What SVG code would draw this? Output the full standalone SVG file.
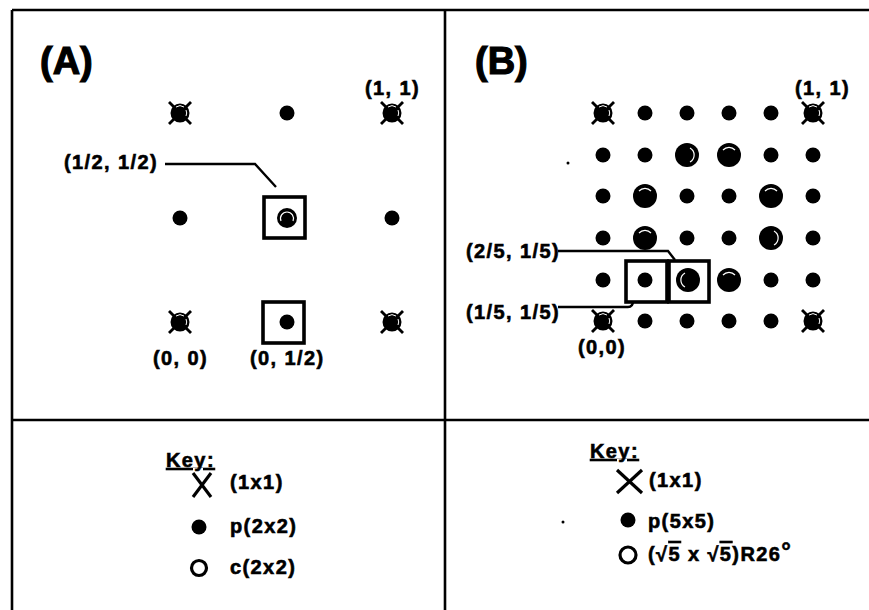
<svg xmlns="http://www.w3.org/2000/svg" xmlns:xlink="http://www.w3.org/1999/xlink" width="869" height="610" viewBox="0 0 869 610">
<style>
text{font-family:"Liberation Sans",Arial,sans-serif;font-weight:bold;fill:#000;stroke:#000;stroke-width:0.6}
.lbl{font-size:20px;letter-spacing:1.4px}
.big{font-size:38px;stroke-width:1.2}
.frame{stroke:#000;stroke-width:2.6;fill:none}
.box{stroke:#000;stroke-width:3.6;fill:none}
.lead{stroke:#000;stroke-width:2.4;fill:none}
.xk{stroke:#000;stroke-width:3.2;stroke-linecap:butt}
</style>
<defs>
<g id="xc">
<line x1="-11" y1="-11" x2="11" y2="11" stroke="#000" stroke-width="2.8"/>
<line x1="11" y1="-11" x2="-11" y2="11" stroke="#000" stroke-width="2.8"/>
<circle r="9.5" fill="#000"/>
<path d="M-4,-6 A7,7 0 0 1 4,-6" stroke="#fff" stroke-width="1" fill="none"/>
<path d="M6,-3 A7,7 0 0 1 6,3" stroke="#fff" stroke-width="1" fill="none"/>
</g>
<circle id="dot" r="7.5" fill="#000"/>
<g id="bigc">
<circle r="12" fill="#000"/>
<path d="M-6,-5 A8,8 0 0 1 6,-5" stroke="#fff" stroke-width="1.2" fill="none"/>
</g>
<g id="bigr">
<circle r="12" fill="#000"/>
<path d="M3,-7 A8,8 0 0 1 3,7" stroke="#fff" stroke-width="1.2" fill="none"/>
</g>
<g id="bigl">
<circle r="12" fill="#000"/>
<path d="M-3,-7 A8,8 0 0 0 -3,7" stroke="#fff" stroke-width="1.2" fill="none"/>
</g>
</defs>
<rect width="869" height="610" fill="#fff"/>
<g id="frame" class="frame">
<line x1="12" y1="10" x2="869" y2="10"/>
<line x1="12" y1="10" x2="12" y2="610"/>
<line x1="445" y1="10" x2="445" y2="610"/>
<line x1="12" y1="420" x2="869" y2="420"/>
</g>
<g id="titles">
<text class="big" x="40" y="74">(A)</text>
<text class="big" x="475" y="74">(B)</text>
</g>
<g id="connectors">
<path class="lead" d="M165,164 H255 L276,187"/>
<path class="lead" d="M558,251 H668 L675,260"/>
<path class="lead" d="M558,307 H628 Q633,307 633,301"/>
</g>
<g id="panelA">
<g id="A-00"><use xlink:href="#xc" x="180" y="322"/></g>
<g id="A-10"><use xlink:href="#xc" x="392" y="322"/></g>
<g id="A-01"><use xlink:href="#xc" x="180" y="113"/></g>
<g id="A-11"><use xlink:href="#xc" x="392" y="113"/></g>
<g id="A-d1"><use xlink:href="#dot" x="287" y="113"/></g>
<g id="A-d2"><use xlink:href="#dot" x="180" y="218"/></g>
<g id="A-d3"><use xlink:href="#dot" x="392" y="218"/></g>
<g id="A-half"><rect class="box" x="264" y="197" width="41" height="41"/><circle cx="287" cy="218" r="10" fill="#000"/><path d="M281,221 A6.5,6.5 0 1 1 293,221" stroke="#fff" stroke-width="1.2" fill="none"/></g>
<g id="A-0half"><rect class="box" x="263" y="302" width="41" height="41"/><use xlink:href="#dot" x="287" y="322"/></g>
<text class="lbl" x="365" y="95">(1, 1)</text>
<text class="lbl" x="64" y="169">(1/2, 1/2)</text>
<text class="lbl" x="153" y="365">(0, 0)</text>
<text class="lbl" x="250" y="365">(0, 1/2)</text>
</g>
<g id="panelB">
<g id="B-row0">
<use xlink:href="#xc" x="603" y="113"/><use xlink:href="#dot" x="645" y="113"/><use xlink:href="#dot" x="687" y="113"/><use xlink:href="#dot" x="729" y="113"/><use xlink:href="#dot" x="771" y="113"/><use xlink:href="#xc" x="813" y="113"/>
</g>
<g id="B-row1">
<use xlink:href="#dot" x="603" y="155"/><use xlink:href="#dot" x="645" y="155"/><use xlink:href="#bigr" x="687" y="155"/><use xlink:href="#bigc" x="729" y="155"/><use xlink:href="#dot" x="771" y="155"/><use xlink:href="#dot" x="813" y="155"/>
</g>
<g id="B-row2">
<use xlink:href="#dot" x="603" y="196"/><use xlink:href="#bigc" x="645" y="196"/><use xlink:href="#dot" x="687" y="196"/><use xlink:href="#dot" x="729" y="196"/><use xlink:href="#bigc" x="771" y="196"/><use xlink:href="#dot" x="813" y="196"/>
</g>
<g id="B-row3">
<use xlink:href="#dot" x="603" y="238"/><use xlink:href="#bigc" x="645" y="238"/><use xlink:href="#dot" x="687" y="238"/><use xlink:href="#dot" x="729" y="238"/><use xlink:href="#bigr" x="771" y="238"/><use xlink:href="#dot" x="813" y="238"/>
</g>
<g id="B-row4">
<use xlink:href="#dot" x="603" y="280"/><use xlink:href="#dot" x="645" y="280"/><use xlink:href="#bigl" x="688" y="280"/><use xlink:href="#bigc" x="729" y="280"/><use xlink:href="#dot" x="771" y="280"/><use xlink:href="#dot" x="813" y="280"/>
</g>
<g id="B-row5">
<use xlink:href="#xc" x="603" y="321"/><use xlink:href="#dot" x="645" y="321"/><use xlink:href="#dot" x="687" y="321"/><use xlink:href="#dot" x="729" y="321"/><use xlink:href="#dot" x="771" y="321"/><use xlink:href="#xc" x="813" y="321"/>
</g>
<g id="B-box1"><rect class="box" x="626" y="261" width="41" height="41"/></g>
<g id="B-box2"><rect class="box" x="669" y="261" width="40" height="41"/></g>
<circle cx="568" cy="163" r="1.5" fill="#000"/>
<text class="lbl" x="795" y="95">(1, 1)</text>
<text class="lbl" x="466" y="258">(2/5, 1/5)</text>
<text class="lbl" x="466" y="319">(1/5, 1/5)</text>
<text class="lbl" x="578" y="354">(0,0)</text>
</g>
<g id="keyA">
<text class="lbl" x="166" y="467" letter-spacing="0" text-decoration="underline">Key:</text>
<line class="xk" x1="193" y1="473" x2="211" y2="497"/><line class="xk" x1="211" y1="473" x2="193" y2="497"/>
<text class="lbl" x="230" y="489">(1x1)</text>
<circle cx="199" cy="527" r="7.5" fill="#000"/>
<text class="lbl" x="230" y="533">p(2x2)</text>
<circle cx="199" cy="568" r="7.5" fill="#fff" stroke="#000" stroke-width="3.2"/>
<text class="lbl" x="230" y="574">c(2x2)</text>
</g>
<g id="keyB">
<text class="lbl" x="590" y="458" letter-spacing="0" text-decoration="underline">Key:</text>
<line class="xk" x1="617" y1="470" x2="642" y2="493"/><line class="xk" x1="642" y1="470" x2="617" y2="493"/>
<text class="lbl" x="649" y="487">(1x1)</text>
<circle cx="563" cy="522" r="1.5" fill="#000"/>
<circle cx="628" cy="520" r="7.5" fill="#000"/>
<text class="lbl" x="648" y="528">p(5x5)</text>
<circle cx="628" cy="555" r="8" fill="#fff" stroke="#000" stroke-width="3.2"/>
<text class="lbl" x="648" y="561" letter-spacing="2.2">(√<tspan text-decoration="overline">5</tspan> x √<tspan text-decoration="overline">5</tspan>)R26<tspan font-size="24" dy="-2">°</tspan></text>
</g>
</svg>
